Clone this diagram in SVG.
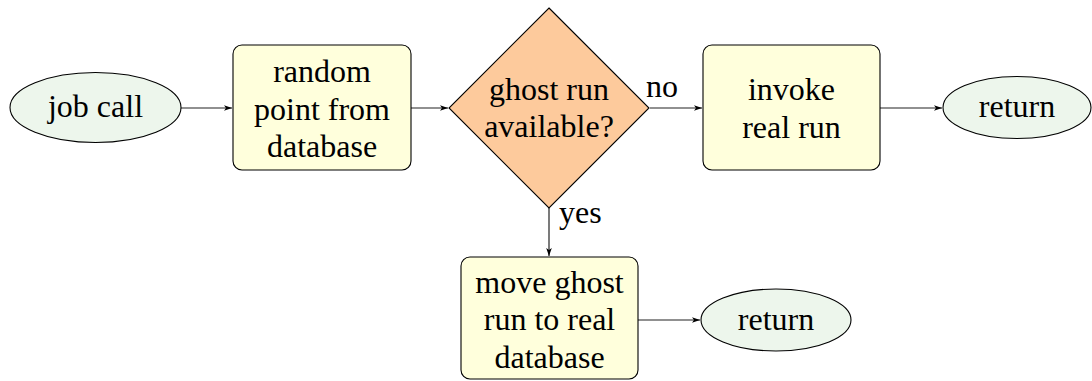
<svg xmlns="http://www.w3.org/2000/svg" width="1092" height="381" viewBox="0 0 1092 381" font-family="Times New Roman, serif" font-size="32">
<style>
.term{fill:#edf6ec;stroke:#000;stroke-width:1.1}
.proc{fill:#ffffdc;stroke:#000;stroke-width:1.1}
.dec{fill:#fdca9c;stroke:#000;stroke-width:1.1}
.edge{fill:none;stroke:#222;stroke-width:1.2;marker-end:url(#ah)}
</style>
<defs>
<marker id="ah" viewBox="0 0 10 10" refX="10" refY="5" markerWidth="8" markerHeight="8" markerUnits="userSpaceOnUse" orient="auto">
<path d="M0,1.5 L10,5 L0,8.5 L2.5,5 Z" fill="#000"/>
</marker>
</defs>
<g id="connectors">
<line class="edge" x1="181" y1="108" x2="232" y2="108"/>
<line class="edge" x1="411" y1="108" x2="448" y2="108"/>
<line class="edge" x1="650" y1="108" x2="702" y2="108"/>
<line class="edge" x1="880" y1="108" x2="942" y2="108"/>
<line class="edge" x1="549" y1="208" x2="549" y2="256"/>
<line class="edge" x1="638" y1="320" x2="700" y2="320"/>
<text x="646" y="97">no</text>
<text x="559" y="223">yes</text>
</g>
<g id="jobcall" text-anchor="middle">
<ellipse class="term" cx="95.5" cy="107.5" rx="85.5" ry="35"/>
<text x="95.5" y="117">job call</text>
</g>
<g id="random" text-anchor="middle">
<rect class="proc" x="233" y="45" width="178" height="125" rx="9"/>
<text x="322" y="82">random</text>
<text x="322" y="120">point from</text>
<text x="322" y="157">database</text>
</g>
<g id="decision" text-anchor="middle">
<polygon class="dec" points="549,8 649,108 549,208 449,108"/>
<text x="549" y="100">ghost run</text>
<text x="549" y="137">available?</text>
</g>
<g id="invoke" text-anchor="middle">
<rect class="proc" x="703" y="45" width="177" height="125" rx="9"/>
<text x="791.5" y="100">invoke</text>
<text x="791.5" y="138">real run</text>
</g>
<g id="return1" text-anchor="middle">
<ellipse class="term" cx="1017" cy="107.5" rx="74" ry="31"/>
<text x="1017" y="117">return</text>
</g>
<g id="move" text-anchor="middle">
<rect class="proc" x="461" y="257" width="177" height="122" rx="9"/>
<text x="549.5" y="293">move ghost</text>
<text x="549.5" y="330">run to real</text>
<text x="549.5" y="368">database</text>
</g>
<g id="return2" text-anchor="middle">
<ellipse class="term" cx="776" cy="320" rx="75" ry="31"/>
<text x="776" y="330">return</text>
</g>
</svg>
